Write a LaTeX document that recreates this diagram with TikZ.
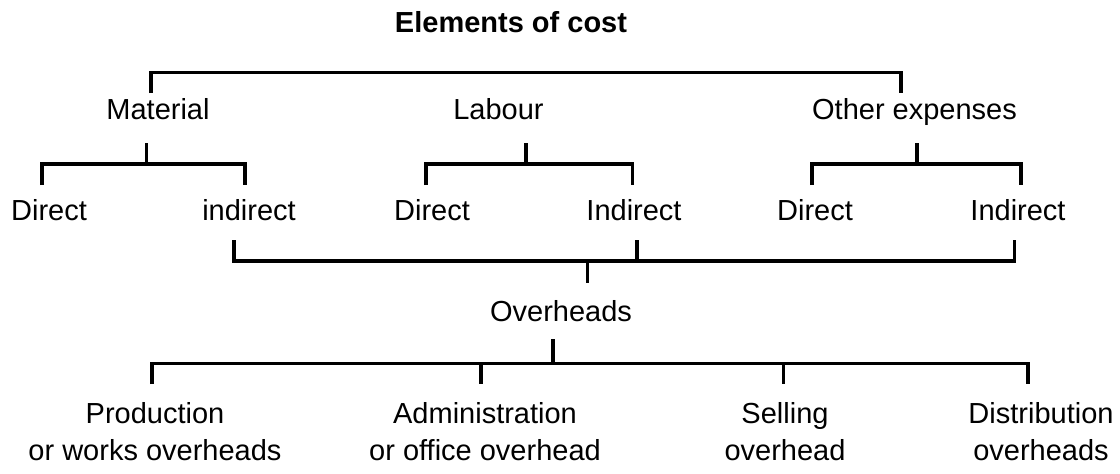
\documentclass[tikz,border=0pt]{standalone}
\usepackage{fontspec}
\setmainfont{Liberation Sans}
\begin{document}
\begin{tikzpicture}[x=1pt,y=-1pt,
  lbl/.style={anchor=base,inner sep=0pt,font=\fontsize{29}{37.3}\selectfont},
  ttl/.style={anchor=base,inner sep=0pt,font=\bfseries\fontsize{29}{35}\selectfont},
  conn/.style={draw,line width=3.4pt,line cap=butt,line join=miter}]
\useasboundingbox (0,0) rectangle (1120,474);
% labels
\node[ttl] (title) at (511,32) {Elements of cost};
\node[lbl] (mat) at (158,119) {Material};
\node[lbl] (lab) at (498.5,119) {Labour};
\node[lbl] (oth) at (914.5,119) {Other expenses};
\node[lbl] (md) at (49,220) {Direct};
\node[lbl] (mi) at (249,220) {indirect};
\node[lbl] (ld) at (432,220) {Direct};
\node[lbl] (li) at (634,220) {Indirect};
\node[lbl] (od) at (815,220) {Direct};
\node[lbl] (oi) at (1018,220) {Indirect};
\node[lbl] (ovh) at (561,321) {Overheads};
\node[lbl] (prod) at (155,423) {\begin{tabular}[t]{@{}c@{}}Production\\or works overheads\end{tabular}};
\node[lbl] (adm) at (485,423) {\begin{tabular}[t]{@{}c@{}}Administration\\or office overhead\end{tabular}};
\node[lbl] (sell) at (785,423) {\begin{tabular}[t]{@{}c@{}}Selling\\overhead\end{tabular}};
\node[lbl] (dist) at (1041,423) {\begin{tabular}[t]{@{}c@{}}Distribution\\overheads\end{tabular}};
% connector end points
\coordinate (matTop) at (151,93);
\coordinate (othTop) at (901,93);
\coordinate (topBar) at (0,72.3);
\coordinate (matBot) at (146.5,143);
\coordinate (labBot) at (526,143);
\coordinate (othBot) at (917,143);
\coordinate (subBar) at (0,164);
\coordinate (mdTop) at (42,185);
\coordinate (miTop) at (245,185);
\coordinate (ldTop) at (426,185);
\coordinate (liTop) at (632.5,185);
\coordinate (odTop) at (812,185);
\coordinate (oiTop) at (1021,185);
\coordinate (miBot) at (234,240);
\coordinate (liBot) at (637,240);
\coordinate (oiBot) at (1014.6,240);
\coordinate (ovBar) at (0,261);
\coordinate (ovTop) at (587.5,283);
\coordinate (ovBot) at (553,339);
\coordinate (lowBar) at (0,363.3);
\coordinate (prodTop) at (152,384);
\coordinate (admTop) at (481,384);
\coordinate (sellTop) at (783.5,384);
\coordinate (distTop) at (1028,384);
% top bracket
\draw[conn] (matTop) -- (matTop |- topBar) -- (othTop |- topBar) -- (othTop);
% material
\draw[conn] (matBot) -- (matBot |- subBar);
\draw[conn] (mdTop) -- (mdTop |- subBar) -- (miTop |- subBar) -- (miTop);
% labour
\draw[conn] (labBot) -- (labBot |- subBar);
\draw[conn] (ldTop) -- (ldTop |- subBar) -- (liTop |- subBar) -- (liTop);
% other expenses
\draw[conn] (othBot) -- (othBot |- subBar);
\draw[conn] (odTop) -- (odTop |- subBar) -- (oiTop |- subBar) -- (oiTop);
% indirect to overheads
\draw[conn] (miBot) -- (miBot |- ovBar) -- (oiBot |- ovBar) -- (oiBot);
\draw[conn] (liBot) -- (liBot |- ovBar);
\draw[conn] (ovTop |- ovBar) -- (ovTop);
% overheads breakdown
\draw[conn] (ovBot) -- (ovBot |- lowBar);
\draw[conn] (prodTop) -- (prodTop |- lowBar) -- (distTop |- lowBar) -- (distTop);
\draw[conn] (admTop |- lowBar) -- (admTop);
\draw[conn] (sellTop |- lowBar) -- (sellTop);
\end{tikzpicture}
\end{document}
